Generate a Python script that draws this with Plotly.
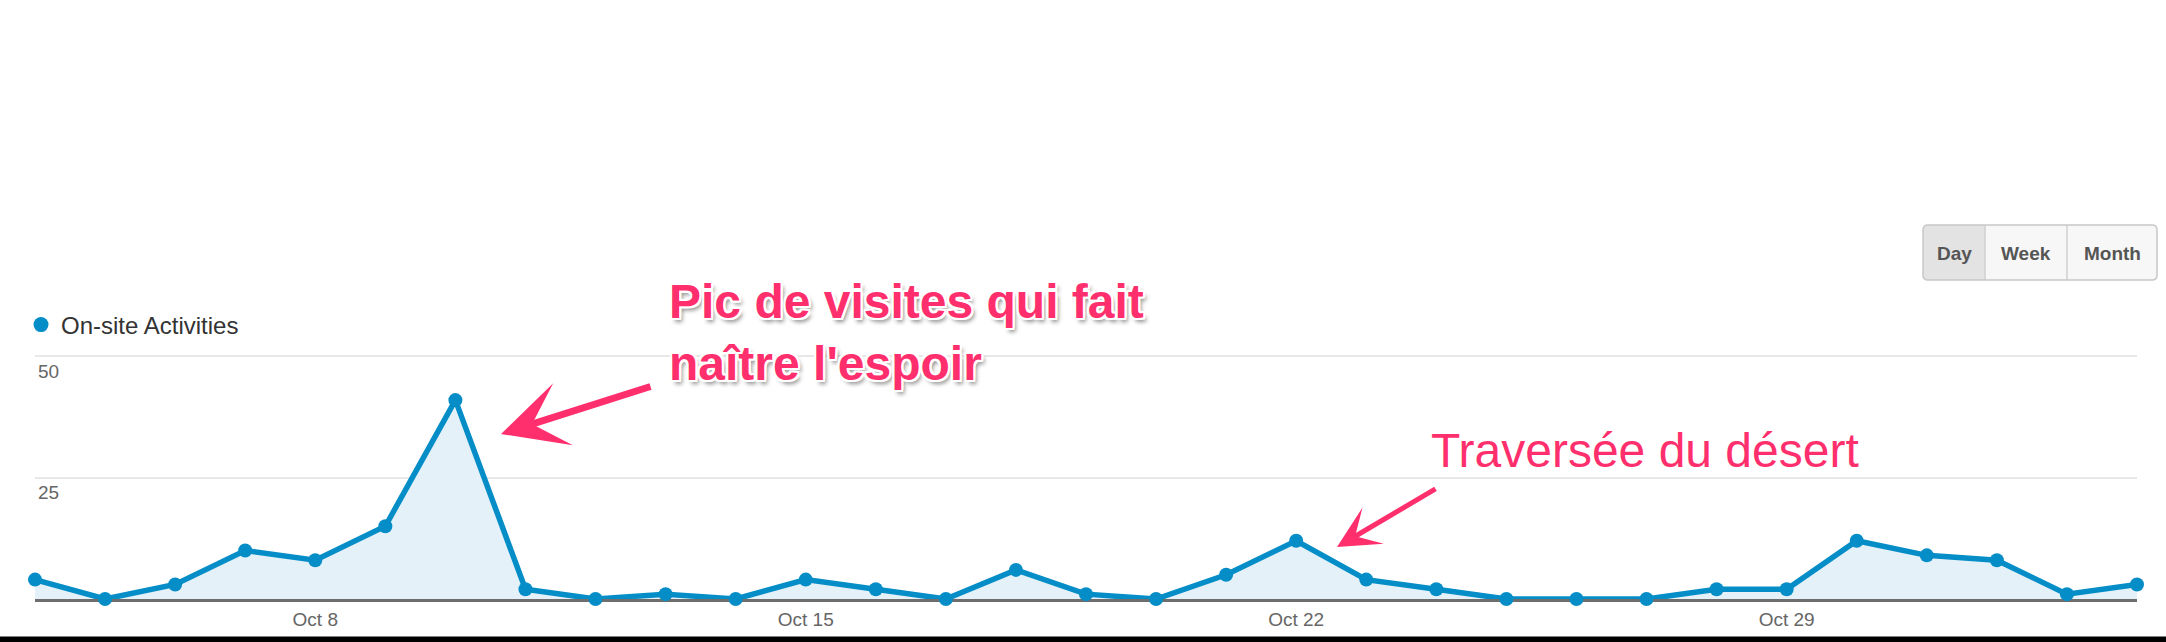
import plotly.graph_objects as go

# ---------------- data ----------------
dates = [
    "2013-10-04", "2013-10-05", "2013-10-06", "2013-10-07", "2013-10-08", "2013-10-09", "2013-10-10",
    "2013-10-11", "2013-10-12", "2013-10-13", "2013-10-14", "2013-10-15", "2013-10-16", "2013-10-17",
    "2013-10-18", "2013-10-19", "2013-10-20", "2013-10-21", "2013-10-22", "2013-10-23", "2013-10-24",
    "2013-10-25", "2013-10-26", "2013-10-27", "2013-10-28", "2013-10-29", "2013-10-30", "2013-10-31",
    "2013-11-01", "2013-11-02", "2013-11-03",
]
activities = [4, 0, 3, 10, 8, 15, 41,
              2, 0, 1, 0, 4, 2, 0,
              6, 1, 0, 5, 12, 4, 2,
              0, 0, 0, 2, 2, 12, 9,
              8, 1, 3]
series_name = "On-site Activities"
x_tick_vals = ["2013-10-08", "2013-10-15", "2013-10-22", "2013-10-29"]
x_tick_text = ["Oct 8", "Oct 15", "Oct 22", "Oct 29"]
y_tick_vals = [25, 50]
y_tick_text = ["25", "50"]
note_peak = "Pic de visites qui fait<br>naître l'espoir"
note_desert = "Traversée du désert"
period_buttons = ["Day", "Week", "Month"]

# ---------------- layout geometry (pixels) ----------------
W, H = 2166, 642
Y_TOP = 50.3
ML, MR, MT, MB = 35, 29, 355, 43
PW, PH = W - ML - MR, H - MT - MB
BOTTOM = MT + PH


def xp(px):
    return (px - ML) / PW


def yp(py):
    return (BOTTOM - py) / PH


BLUE = "#058DC7"
PINK = "#FF2F6D"
FONT = "Liberation Sans, Arial, sans-serif"

fig = go.Figure()
fig.add_trace(go.Scatter(
    x=dates, y=activities, mode="lines+markers",
    line=dict(color=BLUE, width=5.5),
    marker=dict(size=14, color=BLUE),
    fill="tozeroy", fillcolor="#E4F1F9",
    cliponaxis=False, showlegend=False, hoverinfo="skip",
))
fig.add_trace(go.Scatter(
    x=[None], y=[None], mode="markers", name=series_name,
    marker=dict(size=15, color=BLUE), showlegend=True, hoverinfo="skip",
))


def rounded(x0, y0, x1, y1, rl, rr):
    P = lambda a, b: f"{xp(a):.6f},{yp(b):.6f}"
    return (f"M {P(x0 + rl, y0)} L {P(x1 - rr, y0)} Q {P(x1, y0)} {P(x1, y0 + rr)} "
            f"L {P(x1, y1 - rr)} Q {P(x1, y1)} {P(x1 - rr, y1)} "
            f"L {P(x0 + rl, y1)} Q {P(x0, y1)} {P(x0, y1 - rl)} "
            f"L {P(x0, y0 + rl)} Q {P(x0, y0)} {P(x0 + rl, y0)} Z")


bx0, bx1, by0, by1 = 1923, 2157, 225, 280
seps = [1923, 1985, 2067, 2157]
shapes = [
    dict(type="path", xref="paper", yref="paper", path=rounded(bx0, by0, bx1, by1, 5, 5),
         fillcolor="#f7f7f7", line=dict(width=0), layer="above"),
    dict(type="path", xref="paper", yref="paper", path=rounded(seps[0], by0, seps[1], by1, 5, 0),
         fillcolor="#e3e3e3", line=dict(width=0), layer="above"),
    dict(type="line", xref="paper", yref="paper", x0=xp(seps[1]), x1=xp(seps[1]), y0=yp(by0), y1=yp(by1),
         line=dict(color="#d0d0d0", width=1.5)),
    dict(type="line", xref="paper", yref="paper", x0=xp(seps[2]), x1=xp(seps[2]), y0=yp(by0), y1=yp(by1),
         line=dict(color="#d0d0d0", width=1.5)),
    dict(type="path", xref="paper", yref="paper", path=rounded(bx0, by0, bx1, by1, 5, 5),
         fillcolor="rgba(0,0,0,0)", line=dict(color="#c8c8c8", width=1.5), layer="above"),
    dict(type="rect", xref="paper", yref="paper", x0=xp(-2), x1=xp(W + 2), y0=yp(H + 2), y1=yp(636.5),
         fillcolor="#000000", line=dict(width=0), layer="above"),
]

annotations = []
for i, lab in enumerate(period_buttons):
    annotations.append(dict(
        xref="paper", yref="paper", x=xp((seps[i] + seps[i + 1]) / 2), y=yp(253),
        text=f"<b>{lab}</b>", showarrow=False, xanchor="center", yanchor="middle",
        font=dict(family=FONT, size=19, color="#555555"),
    ))

outline = ("2px 2px 0 #fff, -2px -2px 0 #fff, 2px -2px 0 #fff, -2px 2px 0 #fff, "
           "0 2px 0 #fff, 2px 0 0 #fff, -2px 0 0 #fff, 0 -2px 0 #fff, 3px 4px 4px rgba(0,0,0,0.45)")
annotations.append(dict(
    xref="paper", yref="paper", x=xp(667), y=yp(332.5), xanchor="left", yanchor="middle",
    text=f"<b>{note_peak}</b>", showarrow=False, align="left",
    font=dict(family=FONT, size=48, color=PINK, shadow=outline),
))
annotations.append(dict(
    xref="paper", yref="paper", x=xp(1429), y=yp(450.5), xanchor="left", yanchor="middle",
    text=note_desert, showarrow=False, align="left",
    font=dict(family=FONT, size=48, color=PINK),
))
annotations.append(dict(
    xref="paper", yref="paper", x=xp(501), y=yp(434), text="", showarrow=True,
    ax=151, ay=-48, arrowhead=3, arrowwidth=7, arrowsize=1.55, arrowcolor=PINK, standoff=0,
))
annotations.append(dict(
    xref="paper", yref="paper", x=xp(1337), y=yp(547), text="", showarrow=True,
    ax=100, ay=-59, arrowhead=3, arrowwidth=5, arrowsize=1.4, arrowcolor=PINK, standoff=0,
))

fig.update_layout(
    width=W, height=H, autosize=False,
    margin=dict(l=ML, r=MR, t=MT, b=MB, pad=0, autoexpand=False),
    paper_bgcolor="white", plot_bgcolor="white",
    hovermode=False,
    showlegend=True,
    legend=dict(x=xp(21), y=yp(325), xanchor="left", yanchor="middle",
                font=dict(family=FONT, size=24, color="#333333"),
                itemwidth=30, bgcolor="rgba(0,0,0,0)", borderwidth=0),
    xaxis=dict(type="date", range=[dates[0], dates[-1]],
               tickvals=x_tick_vals, ticktext=x_tick_text,
               showgrid=False, zeroline=False,
               showline=True, linecolor="#6e6e6e", linewidth=2.5, layer="below traces",
               ticks="outside", ticklen=1, tickcolor="rgba(0,0,0,0)",
               tickfont=dict(family=FONT, size=19, color="#666666"), fixedrange=True),
    yaxis=dict(range=[0, Y_TOP], tickvals=y_tick_vals, ticktext=y_tick_text,
               showgrid=True, gridcolor="#e8e8e8", gridwidth=1.5, zeroline=False, showline=False,
               ticklabelposition="inside", ticklabelshift=15, ticklabeloverflow="allow",
               ticks="", ticklen=0,
               tickfont=dict(family=FONT, size=19, color="#666666"), fixedrange=True),
    shapes=shapes,
    annotations=annotations,
)

fig.write_html("out.html", config={"displayModeBar": False},
               post_script="document.body.style.margin='0';document.body.style.padding='0';")
